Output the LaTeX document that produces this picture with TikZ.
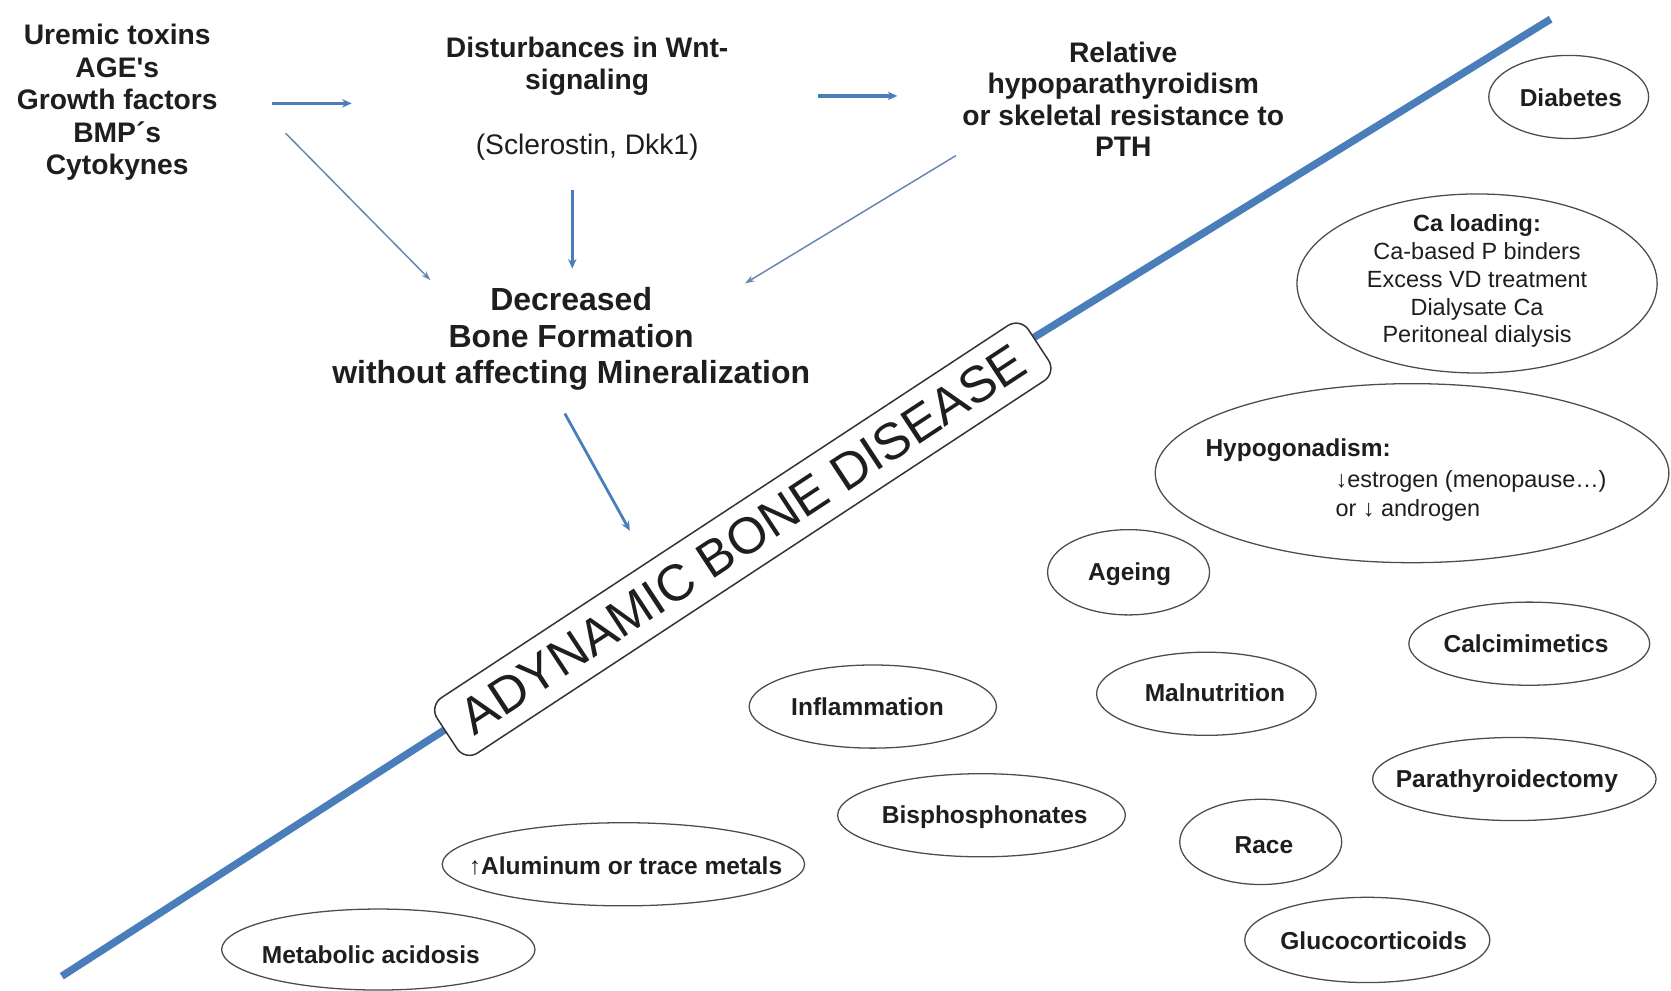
\documentclass[tikz,border=0pt]{standalone}
\usepackage{fontspec}
\setmainfont{Liberation Sans}
\usetikzlibrary{arrows.meta,shapes.geometric}
\definecolor{lineblue}{RGB}{74,126,187}
\definecolor{thinblue}{RGB}{105,135,175}
\definecolor{txt}{RGB}{30,30,30}
\begin{document}
\begin{tikzpicture}[x=1pt,y=-1pt,
  toplbl/.style={text=txt, align=center, inner sep=0pt, font=\bfseries\fontsize{26.5}{30.5}\selectfont},
  biglbl/.style={text=txt, align=center, inner sep=0pt, font=\bfseries\fontsize{30}{34}\selectfont},
  ovaltxt/.style={text=txt, align=center, inner sep=0pt, font=\bfseries\fontsize{23}{26}\selectfont},
  ovalline/.style={draw=black!70, line width=1.2pt},
  thickarrow/.style={draw=lineblue, line width=3.2pt, -{Stealth[length=9pt,width=8pt]}},
  thinarrow/.style={draw=thinblue, line width=1.4pt, -{Stealth[length=9pt,width=6pt]}},
  diseasebox/.style={draw=black!80, line width=1.4pt, fill=white, rounded corners=14pt, rotate=33.3,
    minimum width=664pt, minimum height=62pt, inner sep=0pt, text=txt, font=\fontsize{48}{50}\selectfont}
]
\useasboundingbox (0,0) rectangle (1568,929);

% main diagonal line (two segments, hidden behind the box)
\coordinate (diagA) at (58,916);
\coordinate (diagAin) at (445,667);
\coordinate (diagBin) at (955,326);
\coordinate (diagB) at (1455,18);
\draw[lineblue, line width=7pt] (diagA) -- (diagAin);
\draw[lineblue, line width=7pt] (diagBin) -- (diagB);

% rotated box
\node[diseasebox] (adb) at (697,506) {ADYNAMIC BONE DISEASE};

% top texts
\node[toplbl] (uremic) at (110,96) {Uremic toxins\\AGE\textquotesingle s\\Growth factors\\BMP´s\\Cytokynes};
\node[toplbl] (wnt) at (551,62) {Disturbances in Wnt-\\signaling};
\node[text=txt, inner sep=0pt, font=\fontsize{26.5}{30}\selectfont] (scl) at (551,138) {(Sclerostin, Dkk1)};
\node[toplbl, font=\bfseries\fontsize{26.5}{29.5}\selectfont] (rel) at (1054,93) {Relative\\hypoparathyroidism\\or skeletal resistance to\\PTH};
\node[biglbl] (dec) at (536,318) {Decreased\\Bone Formation\\without affecting Mineralization};

% arrow end coordinates
\coordinate (a1s) at (255,97);  \coordinate (a1e) at (330,97);
\coordinate (a2s) at (268,125); \coordinate (a2e) at (404,263);
\coordinate (a3s) at (768,90);  \coordinate (a3e) at (842,90);
\coordinate (a4s) at (897,146); \coordinate (a4e) at (699,266);
\coordinate (a5s) at (537,178); \coordinate (a5e) at (537,252);
\coordinate (a6s) at (530,388); \coordinate (a6e) at (591,498);

\draw[thickarrow] (a1s) -- (a1e);
\draw[thinarrow] (a2s) -- (a2e);
\draw[thickarrow] (a3s) -- (a3e);
\draw[thinarrow] (a4s) -- (a4e);
\draw[thickarrow] (a5s) -- (a5e);
\draw[thickarrow, line width=2.6pt] (a6s) -- (a6e);

% ellipses
\draw[ovalline] (1472,91) ellipse [x radius=75, y radius=39];
\node[ovaltxt] (diab) at (1474,92) {Diabetes};

\draw[ovalline] (1386,266) ellipse [x radius=169, y radius=84];
\node[text=txt, align=center, inner sep=0pt, font=\fontsize{22}{26}\selectfont] (ca) at (1386,264)
  {\textbf{Ca loading:}\\Ca-based P binders\\Excess VD treatment\\Dialysate Ca\\Peritoneal dialysis};

\draw[ovalline] (1325,444) ellipse [x radius=241, y radius=84];
\node[ovaltxt, anchor=base west] (hypo) at (1131,428) {Hypogonadism:};
\node[text=txt, anchor=base west, inner sep=0pt, font=\fontsize{22}{28}\selectfont] (estro) at (1253,457)
  {↓estrogen (menopause…)};
\node[text=txt, anchor=base west, inner sep=0pt, font=\fontsize{22}{28}\selectfont] (andro) at (1253,485)
  {or ↓ androgen};

\draw[ovalline] (1059,537) ellipse [x radius=76, y radius=40];
\node[ovaltxt] (age) at (1060,539) {Ageing};

\draw[ovalline] (1435,604) ellipse [x radius=113, y radius=39];
\node[ovaltxt] (calc) at (1432,604) {Calcimimetics};

\draw[ovalline] (1132,651) ellipse [x radius=103, y radius=39];
\node[ovaltxt] (maln) at (1140,650) {Malnutrition};

\draw[ovalline] (819,663) ellipse [x radius=116, y radius=39];
\node[ovaltxt] (infl) at (814,663) {Inflammation};

\draw[ovalline] (1421,731) ellipse [x radius=133, y radius=39];
\node[ovaltxt] (ptx) at (1414,733) {Parathyroidectomy};

\draw[ovalline] (921,765) ellipse [x radius=135, y radius=39];
\node[ovaltxt] (bis) at (924,767) {Bisphosphonates};

\draw[ovalline] (1183,790) ellipse [x radius=76, y radius=40];
\node[ovaltxt] (race) at (1186,793) {Race};

\draw[ovalline] (585,811) ellipse [x radius=170, y radius=39];
\node[ovaltxt] (alu) at (587,813) {↑Aluminum or trace metals};

\draw[ovalline] (1283,882) ellipse [x radius=115, y radius=40];
\node[ovaltxt] (gluc) at (1289,883) {Glucocorticoids};

\draw[ovalline] (355,891) ellipse [x radius=147, y radius=38];
\node[ovaltxt] (meta) at (348,896) {Metabolic acidosis};

\end{tikzpicture}
\end{document}
